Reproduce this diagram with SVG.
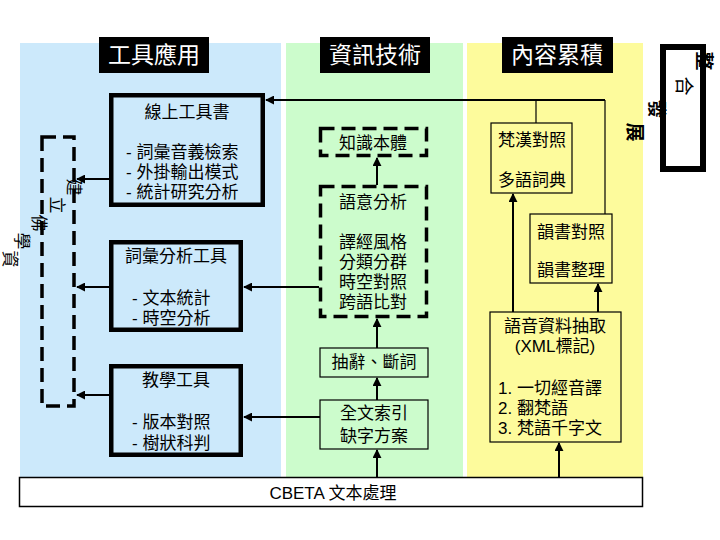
<svg xmlns="http://www.w3.org/2000/svg" width="720" height="540" viewBox="0 0 720 540">
<defs>
<style>
text{font-family:"Liberation Sans","Noto Sans CJK TC",sans-serif;font-size:17px;fill:#000;dominant-baseline:central}
.c{text-anchor:middle}
.hd{fill:#fff;font-size:23px;text-anchor:middle}
.thick{fill:none;stroke:#000;stroke-width:4.5}
.thin{fill:none;stroke:#000;stroke-width:1.2}
.dash{fill:none;stroke:#000;stroke-width:3.5;stroke-dasharray:14 7}
.ar{fill:none;stroke:#000;stroke-width:2;marker-end:url(#ah)}
.ln{fill:none;stroke:#000;stroke-width:1.2}
.vt{font-size:17px;text-anchor:middle}
</style>
<marker id="ah" viewBox="0 0 10 10" refX="9" refY="5" markerWidth="9" markerHeight="9" markerUnits="userSpaceOnUse" orient="auto">
<path d="M0,0 L10,5 L0,10 z" fill="#000"/>
</marker>
</defs>
<rect width="720" height="540" fill="#fff"/>
<g id="panels">
<rect x="20" y="43" width="261" height="435" fill="#cce9fb"/>
<rect x="286" y="43" width="177" height="435" fill="#ccfccc"/>
<rect x="467" y="43" width="176" height="435" fill="#fdfb9c"/>
</g>
<g id="headers">
<rect x="99" y="37" width="110" height="36" fill="#000"/>
<text class="hd" x="154" y="55">工具應用</text>
<rect x="320" y="37" width="110" height="36" fill="#000"/>
<text class="hd" x="375" y="55">資訊技術</text>
<rect x="502" y="37" width="111" height="36" fill="#000"/>
<text class="hd" x="557" y="55">內容累積</text>
</g>
<g id="cbeta">
<rect x="19.5" y="477.5" width="623" height="29" fill="#fff" stroke="#000" stroke-width="1.5"/>
<text class="c" x="333" y="493">CBETA 文本處理</text>
</g>
<g id="db">
<rect class="dash" x="42" y="137" width="32" height="269"/>
<text class="vt" transform="rotate(90 73 187)" x="73" y="187">建</text>
<text class="vt" transform="rotate(90 56 205)" x="56" y="205">立</text>
<text class="vt" transform="rotate(90 38 223)" x="38" y="223">佛</text>
<text class="vt" transform="rotate(90 21 241)" x="21" y="241">學</text>
<text class="vt" transform="rotate(90 9 259)" x="9" y="259">資</text>
</g>
<g id="online">
<rect class="thick" x="111.25" y="95.25" width="151.5" height="109.5"/>
<text class="c" x="187" y="112">線上工具書</text>
<text x="126" y="152">- 詞彙音義檢索</text>
<text x="126" y="172">- 外掛輸出模式</text>
<text x="126" y="192">- 統計研究分析</text>
</g>
<g id="vocab">
<rect class="thick" x="111.25" y="242.25" width="129.5" height="87.5"/>
<text class="c" x="176" y="256">詞彙分析工具</text>
<text x="132" y="298">- 文本統計</text>
<text x="132" y="318">- 時空分析</text>
</g>
<g id="teach">
<rect class="thick" x="111.25" y="366.25" width="129.5" height="88.5"/>
<text class="c" x="176" y="380">教學工具</text>
<text x="132" y="422">- 版本對照</text>
<text x="132" y="443">- 樹狀科判</text>
</g>
<g id="ontology">
<rect class="dash" x="320.5" y="128.5" width="106" height="27"/>
<text class="c" x="373" y="143">知識本體</text>
</g>
<g id="semantic">
<rect class="dash" x="320.5" y="186.5" width="106" height="130"/>
<text class="c" x="373" y="202">語意分析</text>
<text class="c" x="373" y="242">譯經風格</text>
<text class="c" x="373" y="262">分類分群</text>
<text class="c" x="373" y="282">時空對照</text>
<text class="c" x="373" y="302">跨語比對</text>
</g>
<g id="segment">
<rect class="thin" x="320" y="348" width="108" height="29"/>
<text class="c" x="374" y="362">抽辭、斷詞</text>
</g>
<g id="index">
<rect class="thin" x="320" y="400" width="108" height="49"/>
<text class="c" x="374" y="413">全文索引</text>
<text class="c" x="374" y="436">缺字方案</text>
</g>
<g id="sanskrit">
<rect class="thin" x="491" y="123" width="81" height="70"/>
<text class="c" x="532" y="140">梵漢對照</text>
<text class="c" x="532" y="180">多語詞典</text>
</g>
<g id="rhyme">
<rect class="thin" x="530" y="214" width="82" height="69"/>
<text class="c" x="571" y="232">韻書對照</text>
<text class="c" x="571" y="270">韻書整理</text>
</g>
<g id="phonetic">
<rect class="thin" x="490" y="312" width="131" height="130"/>
<text class="c" x="555" y="326">語音資料抽取</text>
<text class="c" x="555" y="346">(XML標記)</text>
<text x="498" y="388">1. 一切經音譯</text>
<text x="498" y="408">2. 翻梵語</text>
<text x="498" y="428">3. 梵語千字文</text>
</g>
<g id="integrate">
<rect x="663" y="47" width="40" height="122" fill="none" stroke="#000" stroke-width="6"/>
<text transform="rotate(90 703 61)" x="703" y="61" class="c" style="font-size:19px;font-weight:bold">整</text>
<text transform="rotate(90 683 86)" x="683" y="86" class="c" style="font-size:19px">合</text>
<text transform="rotate(90 656 109)" x="656" y="109" class="c" style="font-size:19px;font-weight:bold">發</text>
<text transform="rotate(90 634 132)" x="634" y="132" class="c" style="font-size:19px;font-weight:bold">展</text>
</g>
<g id="connectors">
<path class="ar" d="M109,179 H77"/>
<path class="ar" d="M109,287 H77"/>
<path class="ar" d="M109,395 H77"/>
<path class="ar" d="M377,185 V158"/>
<path class="ar" d="M377,348 V319"/>
<path class="ar" d="M377,400 V378"/>
<path class="ar" d="M377,477 V450"/>
<path class="ar" d="M319,287 H244"/>
<path class="ar" d="M320,417 H244"/>
<path class="ar" d="M559,477 V443"/>
<path class="ar" d="M598,312 V284"/>
<path class="ar" d="M513,312 V194"/>
<path class="ln" d="M605,214 V100"/>
<path class="ar" d="M605,100 H266"/>
<path class="ln" d="M536,123 V100"/>
</g>
</svg>
